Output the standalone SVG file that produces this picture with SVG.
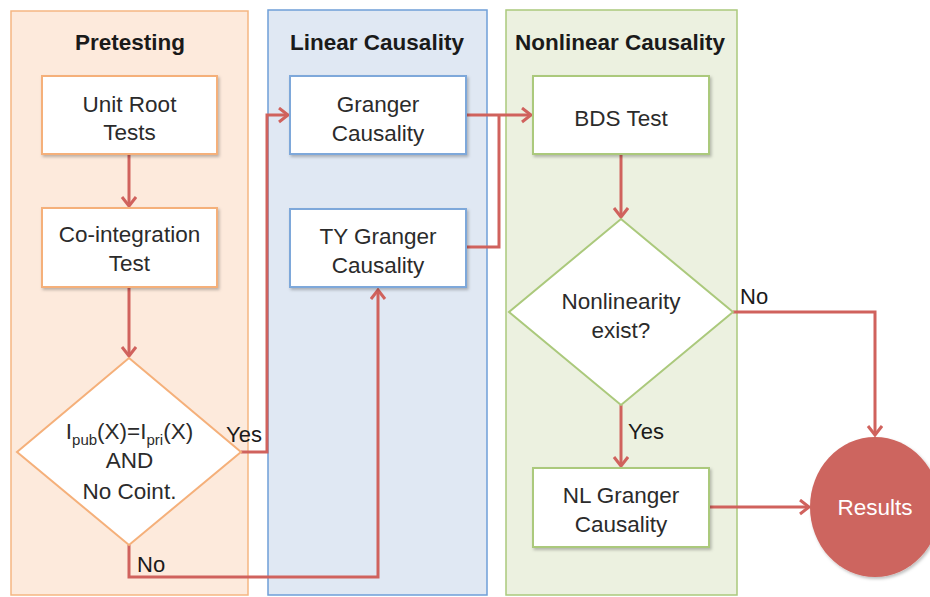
<svg xmlns="http://www.w3.org/2000/svg" width="930" height="597" viewBox="0 0 930 597">
<defs>
<style>
.title{font-family:"Liberation Sans",Arial,sans-serif;font-weight:bold;font-size:22.5px;fill:#1a1a1a;text-anchor:middle}
.t{font-family:"Liberation Sans",Arial,sans-serif;font-size:22.5px;fill:#2b2b2b;text-anchor:middle}
.lbl{font-family:"Liberation Sans",Arial,sans-serif;font-size:22px;fill:#1a1a1a}
.box{fill:#ffffff;stroke-width:2}
.or{stroke:#f5b07a}
.bl{stroke:#7ea8da}
.gr{stroke:#abc97c}
.conn{fill:none;stroke:#d0625d;stroke-width:3}
</style>
<filter id="sh" x="-10%" y="-10%" width="130%" height="130%">
<feDropShadow dx="1.5" dy="2" stdDeviation="1.5" flood-color="#000" flood-opacity="0.25"/>
</filter>
<marker id="ah" markerUnits="userSpaceOnUse" markerWidth="16" markerHeight="18" refX="12" refY="8" orient="auto">
<path d="M3,1 L12,8 L3,15" fill="none" stroke="#d0625d" stroke-width="3"/>
</marker>
</defs>

<g id="panels">
<rect x="11" y="11" width="237" height="584" fill="#fdeadc" stroke="#f5b682" stroke-width="1.5"/>
<rect x="268" y="10" width="219" height="585" fill="#e0e8f3" stroke="#6f9fd8" stroke-width="1.5"/>
<rect x="506" y="10" width="231" height="585" fill="#ecf1e0" stroke="#abc97c" stroke-width="1.5"/>
<text class="title" x="130" y="50">Pretesting</text>
<text class="title" x="377" y="50">Linear Causality</text>
<text class="title" x="620" y="50">Nonlinear Causality</text>
</g>

<g id="connectors">
<path class="conn" d="M129,154 L129,206" marker-end="url(#ah)"/>
<path class="conn" d="M129,287 L129,356" marker-end="url(#ah)"/>
<path class="conn" d="M241,452 L267,452 L267,115 L288,115" marker-end="url(#ah)"/>
<path class="conn" d="M129,545 L129,577 L378,577 L378,290" marker-end="url(#ah)"/>
<path class="conn" d="M466,115 L531,115" marker-end="url(#ah)"/>
<path class="conn" d="M466,247 L499,247 L499,115"/>
<path class="conn" d="M621,154 L621,217" marker-end="url(#ah)"/>
<path class="conn" d="M621,405 L621,466" marker-end="url(#ah)"/>
<path class="conn" d="M733,312 L875,312 L875,435" marker-end="url(#ah)"/>
<path class="conn" d="M709,507 L809,507" marker-end="url(#ah)"/>
</g>

<g id="unit-root">
<rect class="box or" x="42" y="76" width="175" height="78" filter="url(#sh)"/>
<text class="t" x="129.5" y="112">Unit Root</text>
<text class="t" x="129.5" y="140">Tests</text>
</g>
<g id="co-integration">
<rect class="box or" x="42" y="208" width="175" height="79" filter="url(#sh)"/>
<text class="t" x="129.5" y="242">Co-integration</text>
<text class="t" x="129.5" y="271">Test</text>
</g>
<g id="decision1">
<polygon class="box or" points="129,358 241,452 129,545 17,452"/>
<text class="t" x="129.5" y="439">I<tspan dy="6" font-size="15">pub</tspan><tspan dy="-6">(X)=I</tspan><tspan dy="6" font-size="15">pri</tspan><tspan dy="-6">(X)</tspan></text>
<text class="t" x="129.5" y="468">AND</text>
<text class="t" x="129.5" y="499">No Coint.</text>
</g>
<g id="granger">
<rect class="box bl" x="290" y="76" width="176" height="78" filter="url(#sh)"/>
<text class="t" x="378" y="112">Granger</text>
<text class="t" x="378" y="141">Causality</text>
</g>
<g id="ty-granger">
<rect class="box bl" x="290" y="209" width="176" height="78" filter="url(#sh)"/>
<text class="t" x="378" y="244">TY Granger</text>
<text class="t" x="378" y="273">Causality</text>
</g>
<g id="bds">
<rect class="box gr" x="533" y="76" width="176" height="78" filter="url(#sh)"/>
<text class="t" x="621" y="126">BDS Test</text>
</g>
<g id="decision2">
<polygon class="box gr" points="621,219 733,312 621,405 509,312"/>
<text class="t" x="621" y="309">Nonlinearity</text>
<text class="t" x="621" y="338">exist?</text>
</g>
<g id="nl-granger">
<rect class="box gr" x="533" y="468" width="176" height="79" filter="url(#sh)"/>
<text class="t" x="621" y="503">NL Granger</text>
<text class="t" x="621" y="532">Causality</text>
</g>
<g id="results">
<ellipse cx="875" cy="507" rx="65" ry="70" fill="#cd655e" filter="url(#sh)"/>
<text class="t" x="875" y="515" style="fill:#ffffff">Results</text>
</g>

<g id="labels">
<text class="lbl" x="226" y="442">Yes</text>
<text class="lbl" x="137" y="572">No</text>
<text class="lbl" x="740" y="304">No</text>
<text class="lbl" x="628" y="439">Yes</text>
</g>
</svg>
